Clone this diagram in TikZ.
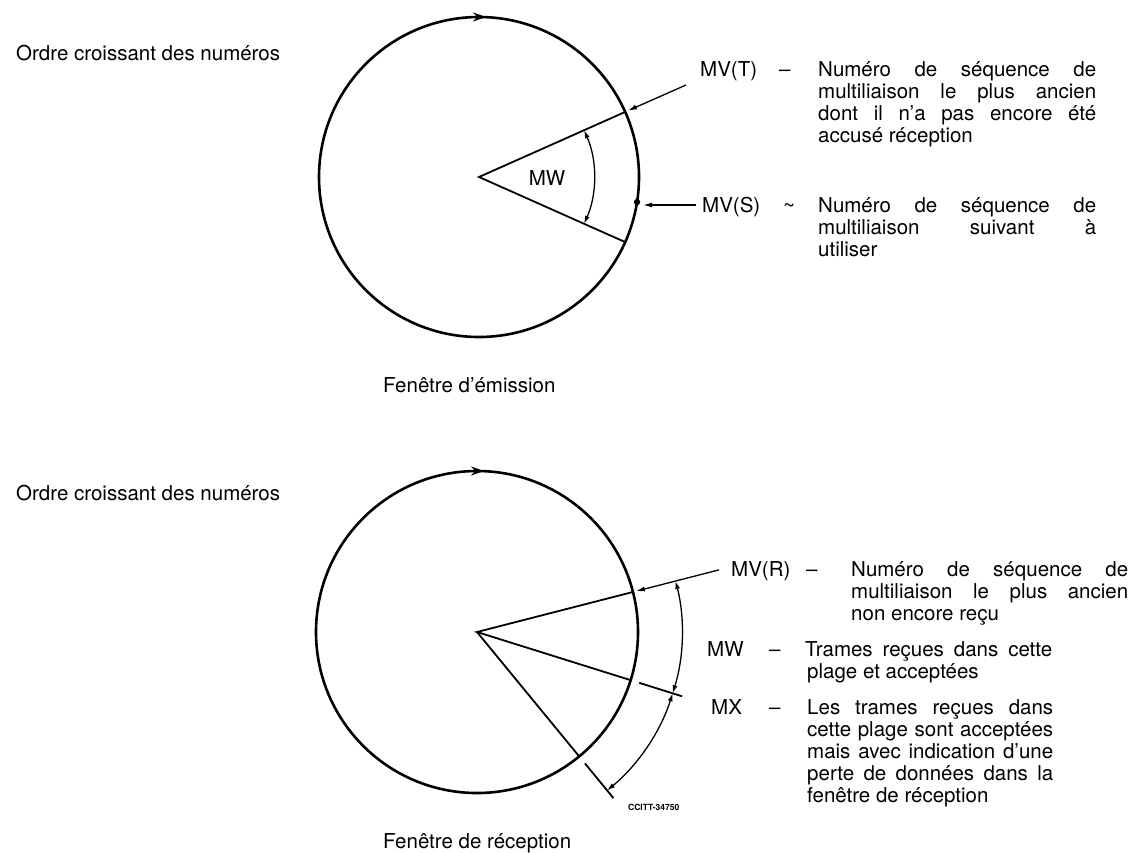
\documentclass[tikz,border=0pt]{standalone}
\usepackage{fontspec}
\setmainfont{TeX Gyre Heros}
\usetikzlibrary{arrows.meta,calc}
\newcommand{\jl}[2]{\makebox[#1][s]{#2}}
\begin{document}
\begin{tikzpicture}[x=1pt,y=-1pt,
  txt/.style={inner sep=0pt, anchor=base west, font=\fontsize{20.5}{22}\selectfont},
  small/.style={inner sep=0pt, anchor=base west, font=\fontsize{8.5}{9}\selectfont\bfseries},
  circ/.style={line width=2.6pt},
  ray/.style={line width=1.8pt},
  dim/.style={line width=1.3pt, {Latex[length=8pt,width=5pt]}-{Latex[length=8pt,width=5pt]}},
  lead/.style={line width=1.3pt, -{Latex[length=9pt,width=5pt]}},
  dir/.style={-{Stealth[length=13pt,width=9pt]}, line width=2.6pt}
]
\useasboundingbox (0,0) rectangle (1145,852);

% ---------------- top: fenetre d'emission ----------------
\coordinate (c1) at (479,177);
\draw[circ] (c1) circle [radius=160pt];
\coordinate (c1top) at ($(c1)+(0,-160)$);
\draw[dir] ($(c1top)+(-8,0)$) -- ($(c1top)+(7,0)$);
\coordinate (p1u) at ($(c1)+(24:160pt)$);
\coordinate (p1l) at ($(c1)+(-24:160pt)$);
\draw[ray] (p1u) -- (c1) -- (p1l);
\draw[dim] ($(c1)+(24:115pt)$) arc[start angle=24, end angle=-24, radius=115pt];
\node[inner sep=0pt, font=\fontsize{20.5}{22}\selectfont] (mw1) at (547,178) {MW};
\coordinate (dotS) at ($(c1)+(-9:160pt)$);
\fill (dotS) circle [radius=3.2pt];

\node[txt] (ordre1) at (16,60) {Ordre croissant des numéros};

\node[txt] (mvt) at (700,76) {MV(T)};
\node[txt] (mvtd) at (779,76) {–};
\node[txt] (mvt1) at (818,76) {\jl{278pt}{Numéro de séquence de}};
\node[txt] (mvt2) at (818,98) {\jl{278pt}{multiliaison le plus ancien}};
\node[txt] (mvt3) at (818,120) {\jl{278pt}{dont il n’a pas encore été}};
\node[txt] (mvt4) at (818,142) {accusé réception};
\coordinate (mvtA) at (686,85);
\draw[lead, shorten >=3pt] (mvtA) -- (p1u);

\node[txt] (mvs) at (702,212) {MV(S)};
\node[txt] (mvsd) at (783,212) {\textasciitilde};
\node[txt] (mvs1) at (818,212) {\jl{278pt}{Numéro de séquence de}};
\node[txt] (mvs2) at (818,234) {\jl{278pt}{multiliaison suivant à}};
\node[txt] (mvs3) at (818,256) {utiliser};
\coordinate (mvsA) at (696,205);
\draw[lead, shorten >=6pt] (mvsA) -- (mvsA -| dotS);

\node[txt] (fen1) at (383,392) {Fenêtre d’émission};

% ---------------- bottom: fenetre de reception ----------------
\coordinate (c2) at (477,632);
\draw[circ] (c2) circle [radius=161pt];
\coordinate (c2top) at ($(c2)+(0,-161)$);
\draw[dir] ($(c2top)+(-8,0)$) -- ($(c2top)+(7,0)$);
\coordinate (q1) at ($(c2)+(14.4:161pt)$);
\coordinate (q2) at ($(c2)+(-17.4:161pt)$);
\coordinate (q3) at ($(c2)+(-50.6:161pt)$);
\draw[ray] (q1) -- (c2) -- (q2);
\draw[ray] (c2) -- (q3);
\draw[ray] ($(c2)+(-17.4:170pt)$) -- ($(c2)+(-17.4:215pt)$);
\draw[ray] ($(c2)+(-50.6:170pt)$) -- ($(c2)+(-50.6:215pt)$);
\draw[dim] ($(c2)+(14.4:205pt)$) arc[start angle=14.4, end angle=-17.4, radius=205pt];
\draw[dim] ($(c2)+(-17.4:205pt)$) arc[start angle=-17.4, end angle=-50.6, radius=205pt];

\node[txt] (ordre2) at (16,500) {Ordre croissant des numéros};

\node[txt] (mvr) at (731,576) {MV(R)};
\node[txt] (mvrd) at (806,576) {–};
\node[txt] (mvr1) at (851,576) {\jl{277pt}{Numéro de séquence de}};
\node[txt] (mvr2) at (851,598) {\jl{277pt}{multiliaison le plus ancien}};
\node[txt] (mvr3) at (851,620) {non encore reçu};
\coordinate (mvrA) at ($(c2)+(14.4:250pt)$);
\draw[lead, shorten >=3pt] (mvrA) -- (q1);

\node[txt] (mw2) at (707,656) {MW};
\node[txt] (mw2d) at (769,656) {–};
\node[txt] (mw21) at (805,656) {\jl{247pt}{Trames reçues dans cette}};
\node[txt] (mw22) at (807,678) {plage et acceptées};

\node[txt] (mx) at (711,714) {MX};
\node[txt] (mxd) at (769,714) {–};
\node[txt] (mx1) at (807,714) {\jl{246pt}{Les trames reçues dans}};
\node[txt] (mx2) at (807,736) {\jl{246pt}{cette plage sont acceptées}};
\node[txt] (mx3) at (807,758) {\jl{246pt}{mais avec indication d’une}};
\node[txt] (mx4) at (807,780) {\jl{246pt}{perte de données dans la}};
\node[txt] (mx5) at (807,802) {fenêtre de réception};

\node[small] (ccitt) at (628,810) {CCITT-34750};
\node[txt] (fen2) at (383,848) {Fenêtre de réception};
\end{tikzpicture}
\end{document}
